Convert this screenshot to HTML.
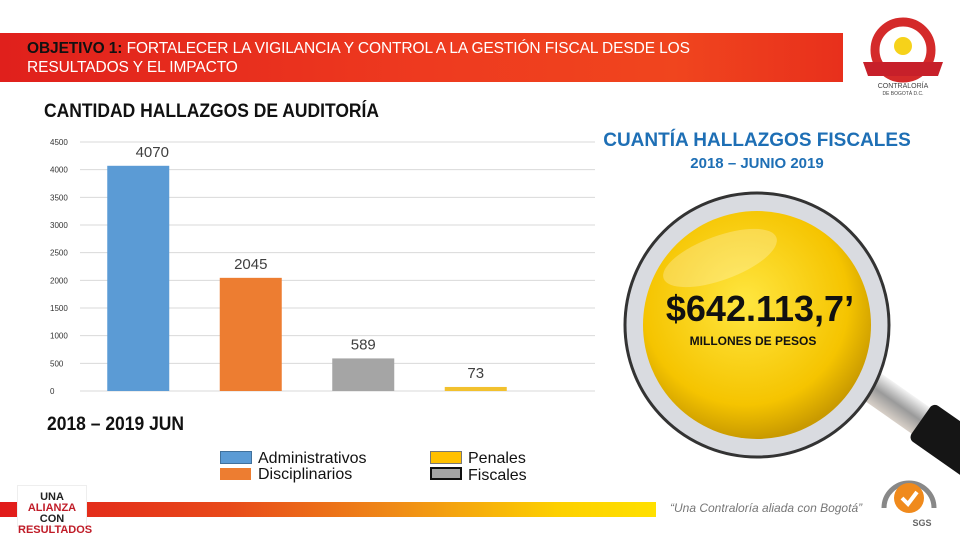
<!DOCTYPE html>
<html><head><meta charset="utf-8"><style>
body{margin:0;width:960px;height:540px;overflow:hidden;background:#fff;font-family:"Liberation Sans",Arial,sans-serif;position:relative}
.a{position:absolute}
</style></head><body>
<div class="a" style="left:0;top:33px;width:843px;height:49px;background:linear-gradient(90deg,#e0201c,#ee3a1f 50%,#f0451e 80%,#e8301c)"></div>
<div class="a" style="left:27px;top:39px;color:#fff;font-size:15.5px;line-height:19px;width:800px;font-weight:300;letter-spacing:-0.1px">
<span style="color:#111;font-weight:700">OBJETIVO 1:</span> FORTALECER LA VIGILANCIA Y CONTROL A LA GESTIÓN FISCAL DESDE LOS<br>RESULTADOS Y EL IMPACTO</div>
<svg class="a" style="left:858px;top:16px" width="90" height="82">
<circle cx="45" cy="34" r="28" fill="none" stroke="#d42a2a" stroke-width="9"/>
<circle cx="45" cy="30" r="9" fill="#f6d21a"/>
<path d="M5 46 L85 46 L80 60 L10 60Z" fill="#c7202a"/>
<text x="45" y="72" font-size="7" text-anchor="middle" fill="#444">CONTRALORÍA</text>
<text x="45" y="79" font-size="5" text-anchor="middle" fill="#444">DE BOGOTÁ D.C.</text>
</svg>
<div class="a" style="left:44px;top:101px;font-size:19px;font-weight:bold;color:#111;transform:scaleX(.92);transform-origin:left">CANTIDAD HALLAZGOS DE AUDITORÍA</div>
<svg id="chart" class="a" style="left:0;top:0" width="600" height="400"></svg>
<div class="a" style="left:47px;top:414px;font-size:19px;font-weight:bold;color:#111;transform:scaleX(.92);transform-origin:left">2018 – 2019 JUN</div>
<div class="a" style="left:220px;top:450px;font-size:16px;color:#111;line-height:17px"><span style="display:inline-block;width:30px;height:11px;background:#5b9bd5;border:1px solid #41719c;vertical-align:-1px;margin-right:6px"></span>Administrativos</div>
<div class="a" style="left:220px;top:466px;font-size:16px;color:#111;line-height:17px"><span style="display:inline-block;width:31px;height:12px;background:#ed7d31;vertical-align:-1px;margin-right:7px"></span>Disciplinarios</div>
<div class="a" style="left:430px;top:450px;font-size:16px;color:#111;line-height:17px"><span style="display:inline-block;width:30px;height:11px;background:#ffc000;border:1px solid #777;vertical-align:-1px;margin-right:6px"></span>Penales</div>
<div class="a" style="left:430px;top:467px;font-size:16px;color:#111;line-height:17px"><span style="display:inline-block;width:28px;height:9px;background:#a5a5a5;border:2px solid #111;vertical-align:0;margin-right:6px"></span>Fiscales</div>
<div class="a" style="left:560px;top:130px;width:394px;text-align:center;color:#1e6fb5;font-weight:bold;font-size:19px">CUANTÍA HALLAZGOS FISCALES</div>
<div class="a" style="left:560px;top:155px;width:394px;text-align:center;color:#1e6fb5;font-weight:bold;font-size:15px">2018 – JUNIO 2019</div>
<svg class="a" style="left:600px;top:180px" width="360" height="300">
<defs><radialGradient id="y" cx="45%" cy="40%" r="60%"><stop offset="0" stop-color="#ffe640"/><stop offset=".75" stop-color="#f5c400"/><stop offset="1" stop-color="#c99a00"/></radialGradient>
<linearGradient id="s" x1="0" y1="0" x2="0" y2="1"><stop offset="0" stop-color="#f4f4f4"/><stop offset=".5" stop-color="#9a9a9a"/><stop offset="1" stop-color="#d8d0c8"/></linearGradient></defs>
<g transform="translate(270,205) rotate(35)">
<rect x="0" y="-16" width="70" height="32" fill="url(#s)"/>
<rect x="62" y="-22" width="120" height="44" rx="6" fill="#151515"/>
</g>
<circle cx="157" cy="145" r="132" fill="#d9dbe0" stroke="#333" stroke-width="3"/>
<circle cx="157" cy="145" r="114" fill="url(#y)"/>
<ellipse cx="120" cy="78" rx="60" ry="22" fill="#fff" opacity=".25" transform="rotate(-20 120 78)"/>
</svg>
<div class="a" style="left:600px;top:288px;width:320px;text-align:center;font-weight:bold;font-size:36px;color:#111">$642.113,7’</div>
<div class="a" style="left:600px;top:334px;width:306px;text-align:center;font-weight:bold;font-size:12px;color:#111">MILLONES DE PESOS</div>
<div class="a" style="left:0;top:502px;width:656px;height:15px;background:linear-gradient(90deg,#e11b1b,#e84a1a 35%,#ef8a17 60%,#fdd000 85%,#ffe000)"></div>
<div class="a" style="left:17px;top:485px;width:70px;height:42px;background:#fff;border:1px solid #eee;text-align:center;font-weight:bold;font-size:11px;line-height:11px;color:#222;padding-top:6px;box-sizing:border-box">UNA <span style="color:#c01c28">ALIANZA</span><br>CON <span style="color:#c01c28">RESULTADOS</span></div>
<div class="a" style="left:670px;top:501px;font-style:italic;font-size:12px;color:#777">“Una Contraloría aliada con Bogotá”</div>
<svg class="a" style="left:878px;top:466px" width="62" height="62">
<path d="M6 42 A25 25 0 1 1 56 42" fill="none" stroke="#888" stroke-width="5"/>
<circle cx="31" cy="32" r="15" fill="#f08a1c"/>
<path d="M24 32 L30 38 L39 26" stroke="#fff" stroke-width="4" fill="none"/>
<text x="44" y="60" font-size="9" font-weight="bold" fill="#666" text-anchor="middle">SGS</text>
</svg>
<script>
const categories=["Administrativos","Disciplinarios","Fiscales","Penales"];
const values=[4070,2045,589,73];
const colors=["#5b9bd5","#ed7d31","#a5a5a5","#f2c12e"];
const ticks=[0,500,1000,1500,2000,2500,3000,3500,4000,4500];
const svg=document.getElementById('chart');
const NS="http://www.w3.org/2000/svg";
const y0=391,y1=142,x0=82,step=112.5,bw=62;
const yS=v=>y0-(v/4500)*(y0-y1);
const xS=i=>x0+step*i+step/2;
ticks.forEach(t=>{
 const l=document.createElementNS(NS,'line');
 
 
 l.setAttribute('x1',80);l.setAttribute('x2',595);l.setAttribute('y1',yS(t));l.setAttribute('y2',yS(t));
 l.setAttribute('stroke','#d9d9d9');l.setAttribute('stroke-width','1');svg.appendChild(l);
 const tx=document.createElementNS(NS,'text');
 
 
 tx.setAttribute('x',50);tx.setAttribute('y',yS(t)+3);tx.setAttribute('font-size','8');tx.setAttribute('fill','#333');
 tx.textContent=t;svg.appendChild(tx);
});
values.forEach((v,i)=>{
 const r=document.createElementNS(NS,'rect');
 
 
 r.setAttribute('x',xS(i)-bw/2);r.setAttribute('y',yS(v));r.setAttribute('width',bw);r.setAttribute('height',y0-yS(v));
 r.setAttribute('fill',colors[i]);svg.appendChild(r);
 const tx=document.createElementNS(NS,'text');
 
 
 tx.setAttribute('x',xS(i)+(i==0?14:0));tx.setAttribute('y',yS(v)-9);tx.setAttribute('text-anchor','middle');
 tx.setAttribute('font-size','15');tx.setAttribute('fill','#404040');
 tx.textContent=v;svg.appendChild(tx);
});
</script>
</body></html>
